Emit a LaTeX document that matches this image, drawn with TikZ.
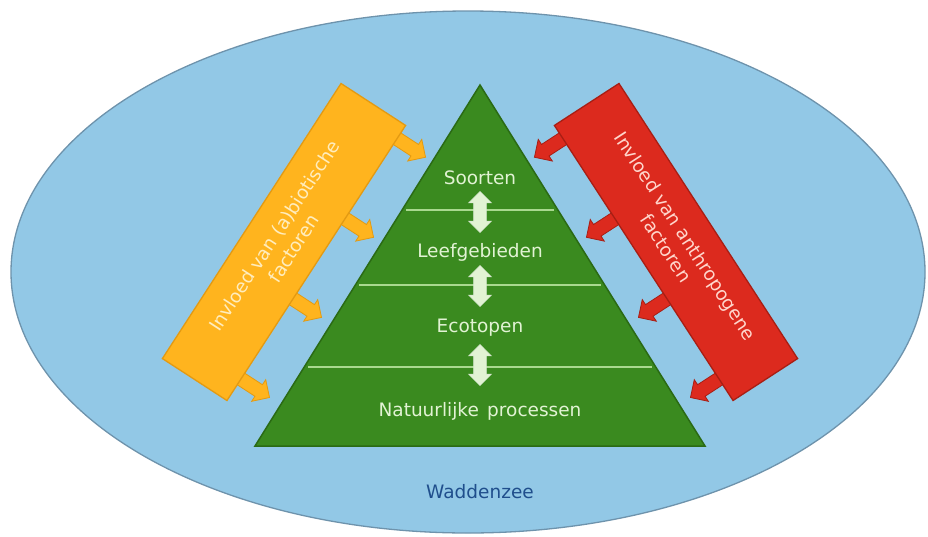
\documentclass[tikz,border=0pt]{standalone}
\usepackage{fontspec}
\setmainfont{DejaVu Sans}
\usetikzlibrary{shapes.arrows,calc}

\definecolor{sea}{HTML}{92C8E6}
\definecolor{seaedge}{HTML}{6E93AC}
\definecolor{leaf}{HTML}{3A8A1F}
\definecolor{leafedge}{HTML}{2A6A14}
\definecolor{leafline}{HTML}{A9D98F}
\definecolor{leaftext}{HTML}{E2F3D4}
\definecolor{amber}{HTML}{FFB41E}
\definecolor{amberedge}{HTML}{E39A12}
\definecolor{ambertext}{HTML}{FFEDBE}
\definecolor{brick}{HTML}{DC2A1E}
\definecolor{brickedge}{HTML}{A81E14}
\definecolor{bricktext}{HTML}{FFD6CC}
\definecolor{navy}{HTML}{1F4E8C}

\pgfdeclarelayer{sea}
\pgfdeclarelayer{under}
\pgfsetlayers{sea,under,main}

\tikzset{
  pyr/.style={fill=leaf, draw=leafedge, line width=1.5pt, line join=miter},
  divider/.style={draw=leafline, line width=1.6pt},
  lvl/.style={text=leaftext, font=\fontsize{18.5}{22}\selectfont, inner sep=0pt},
  updown/.style={double arrow, fill=leaftext, draw=white!80!leaf, line width=0.6pt,
    rotate=90, minimum height=41pt, minimum width=22pt,
    double arrow head extend=5pt, inner xsep=0pt, inner ysep=6pt},
  factorbox/.style={minimum width=328pt, minimum height=77pt, inner sep=0pt,
    align=center, line width=1.3pt, font=\fontsize{18.5}{23}\selectfont},
  obox/.style={factorbox, fill=amber, draw=amberedge, text=ambertext},
  rbox/.style={factorbox, fill=brick, draw=brickedge, text=bricktext},
  blockarrow/.style={single arrow, minimum height=36pt, minimum width=25pt,
    single arrow head extend=6pt, inner xsep=0pt, inner ysep=6.5pt,
    line width=0.8pt, anchor=tail},
  oarrow/.style={blockarrow, fill=amber, draw=amberedge, rotate=-33},
  rarrow/.style={blockarrow, fill=brick, draw=brickedge, rotate=213},
}

\begin{document}
\begin{tikzpicture}[x=1pt,y=1pt]
\useasboundingbox (0,0) rectangle (928,-536);

% the sea around everything, with the pyramid on it
\begin{pgfonlayer}{sea}
  \fill[white] (0,0) rectangle (928,-536);
  \draw[fill=sea, draw=seaedge, line width=1.3pt] (468,-272) ellipse [x radius=457, y radius=261];

  \coordinate (apex) at (480,-85);
  \coordinate (bl) at (255,-446);
  \coordinate (br) at (705,-446);
  \draw[pyr] (apex) -- (bl) -- (br) -- cycle;
  \foreach \f in {0.3463,0.554,0.7812}
    \draw[divider] ($(apex)!\f!(bl)+(4,0)$) -- ($(apex)!\f!(br)+(-4,0)$);
\end{pgfonlayer}

\node[lvl] (soorten) at (480,-178) {Soorten};
\node[lvl] (leef) at (480,-252) {Leefgebieden};
\node[lvl] (eco) at (480,-328) {Ecotopen};
\node[lvl] (proc) at (480,-411) {Natuurlijke\hspace{0.45em}processen};

\node[updown] (ud1) at (480,-212) {};
\node[updown] (ud2) at (480,-286) {};
\node[updown] (ud3) at (480,-365) {};

\node[navy, font=\fontsize{18.5}{22}\selectfont] (sea) at (480,-492) {Waddenzee};

% influence bars
\node[obox, rotate=57] (orect) at (284,-242) {Invloed van (a)biotische\\factoren};
\node[rbox, rotate=-57] (rrect) at (676,-242) {Invloed van anthropogene\\factoren};

\begin{pgfonlayer}{under}
  \foreach \t [count=\i] in {0.05,0.34,0.63,0.92} {
    \node[oarrow] (oa\i) at ($(orect.south east)!\t!(orect.south west)+(147:3)$) {};
    \node[rarrow] (ra\i) at ($(rrect.south west)!\t!(rrect.south east)+(33:3)$) {};
  }
\end{pgfonlayer}
\end{tikzpicture}
\end{document}
